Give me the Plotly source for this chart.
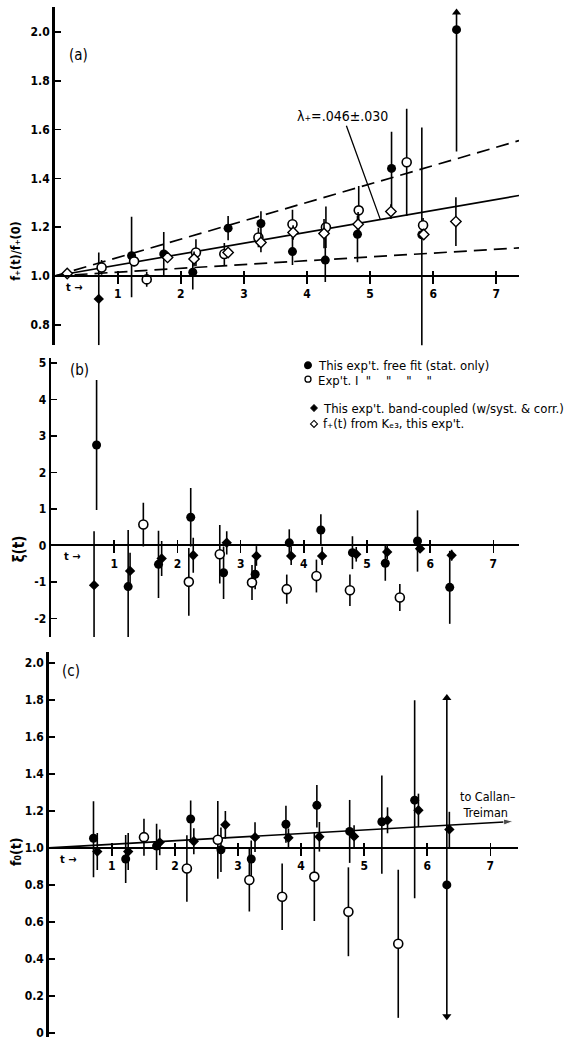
import plotly.graph_objects as go

# ---------------- data ----------------
# panel (a): f+(t)/f+(0)
a_free_t = [1.22, 1.73, 2.19, 2.75, 3.27, 3.77, 4.29, 4.80, 5.34, 5.82, 6.37]
a_free_v = [1.083, 1.09, 1.015, 1.196, 1.215, 1.10, 1.065, 1.171, 1.441, 1.169, 2.01]
a_free_ep = [0.16, 0.09, 0.07, 0.05, 0.05, 0.055, 0.09, 0.075, 0.15, 0.44, 0.07]
a_free_em = [0.17, 0.09, 0.07, 0.05, 0.06, 0.055, 0.09, 0.115, 0.17, 0.46, 0.50]
a_free_arrow_up = [10]

a_band_t = [0.70]
a_band_v = [0.906]
a_band_e = [0.19]

a_expI_t = [0.745, 1.26, 1.46, 2.24, 2.69, 3.23, 3.77, 4.30, 4.82, 5.58, 5.84]
a_expI_v = [1.035, 1.06, 0.986, 1.096, 1.09, 1.158, 1.212, 1.20, 1.269, 1.466, 1.208]
a_expI_e = [0.03, 0.02, 0.03, 0.055, 0.045, 0.04, 0.06, 0.085, 0.10, 0.22, 0.03]

a_ke3_t = [0.20, 1.79, 2.21, 2.75, 3.27, 3.78, 4.27, 4.81, 5.33, 5.85, 6.36]
a_ke3_v = [1.01, 1.076, 1.07, 1.096, 1.137, 1.178, 1.174, 1.212, 1.264, 1.17, 1.223]
a_ke3_e = [0.0, 0.02, 0.03, 0.02, 0.04, 0.03, 0.06, 0.05, 0.03, 0.02, 0.10]

fit_t = [0.0, 7.36]
fit_central = [1.0, 1.33]
fit_upper = [1.0, 1.555]
fit_lower = [1.0, 1.115]

# panel (b): xi(t)
b_free_t = [0.72, 1.22, 1.70, 2.21, 2.73, 3.23, 3.77, 4.27, 4.77, 5.29, 5.80, 6.31]
b_free_v = [2.75, -1.13, -0.52, 0.77, -0.75, -0.79, 0.07, 0.42, -0.20, -0.49, 0.12, -1.15]
b_free_e = [1.78, 1.55, 0.92, 0.80, 0.72, 0.41, 0.37, 0.43, 0.45, 0.48, 0.84, 1.00]
b_band_t = [0.68, 1.25, 1.75, 2.25, 2.78, 3.25, 3.80, 4.29, 4.83, 5.32, 5.84, 6.34]
b_band_v = [-1.09, -0.70, -0.36, -0.27, 0.07, -0.29, -0.29, -0.29, -0.245, -0.18, -0.09, -0.27]
b_band_e = [1.48, 0.50, 0.48, 0.48, 0.32, 0.27, 0.25, 0.25, 0.20, 0.20, 0.10, 0.15]
b_expI_t = [1.46, 2.18, 2.67, 3.18, 3.73, 4.20, 4.73, 5.52]
b_expI_v = [0.57, -1.00, -0.245, -1.02, -1.20, -0.84, -1.23, -1.43]
b_expI_e = [0.60, 0.93, 0.80, 0.48, 0.40, 0.45, 0.43, 0.37]

# panel (c): f0(t)
c_free_t = [0.71, 1.22, 1.71, 2.25, 2.73, 3.21, 3.76, 4.25, 4.77, 5.28, 5.80, 6.31]
c_free_v = [1.052, 0.94, 1.01, 1.156, 0.99, 0.94, 1.128, 1.23, 1.089, 1.141, 1.258, 0.80]
c_free_ep = [0.20, 0.13, 0.12, 0.10, 0.12, 0.10, 0.10, 0.11, 0.17, 0.25, 0.54, 1.01]
c_free_em = [0.21, 0.13, 0.13, 0.11, 0.12, 0.10, 0.10, 0.12, 0.17, 0.28, 0.53, 0.71]
c_free_arrow_both = [11]
c_band_t = [0.77, 1.26, 1.76, 2.30, 2.80, 3.27, 3.80, 4.29, 4.84, 5.37, 5.86, 6.35]
c_band_v = [0.98, 0.98, 1.03, 1.036, 1.125, 1.058, 1.055, 1.06, 1.062, 1.149, 1.203, 1.10]
c_band_e = [0.10, 0.10, 0.07, 0.07, 0.075, 0.08, 0.05, 0.08, 0.06, 0.07, 0.09, 0.095]
c_expI_t = [1.51, 2.19, 2.68, 3.18, 3.70, 4.21, 4.75, 5.54]
c_expI_v = [1.058, 0.889, 1.044, 0.827, 0.736, 0.845, 0.655, 0.482]
c_expI_e = [0.10, 0.18, 0.21, 0.17, 0.18, 0.24, 0.24, 0.40]
ct_t = [0.0, 7.36]
ct_v = [1.0, 1.143]

x_ticks = [1, 2, 3, 4, 5, 6, 7]
a_yticks = [0.8, 1.0, 1.2, 1.4, 1.6, 1.8, 2.0]
a_ytext = ["0.8", "1.0", "1.2", "1.4", "1.6", "1.8", "2.0"]
b_yticks = [-2, -1, 0, 1, 2, 3, 4, 5]
b_ytext = ["-2", "-1", "0", "1", "2", "3", "4", "5"]
c_yticks = [0, 0.2, 0.4, 0.6, 0.8, 1.0, 1.2, 1.4, 1.6, 1.8, 2.0]
c_ytext = ["0", "0.2", "0.4", "0.6", "0.8", "1.0", "1.2", "1.4", "1.6", "1.8", "2.0"]

# ---------------- layout geometry ----------------
W, H = 569, 1040
FONT = "DejaVu Sans Condensed, DejaVu Sans, sans-serif"
BLACK = "black"


def xdom(p0, p1):
    return [p0 / W, p1 / W]


def ydom(top, bottom):
    return [1 - bottom / H, 1 - top / H]


panels = {
    "a": dict(xd=xdom(54.6, 519.0), xr=[0, 7.36], yd=ydom(5, 345), yr=[0.7155, 2.103], base=1.0),
    "b": dict(xd=xdom(51.1, 518.6), xr=[0, 7.40], yd=ydom(358, 638), yr=[-2.509, 5.127], base=0.0),
    "c": dict(xd=xdom(48.7, 517.5), xr=[0, 7.43], yd=ydom(653, 1040), yr=[-0.0215, 2.059], base=1.0),
}


def base_pos(p):
    d0, d1 = p["yd"]
    r0, r1 = p["yr"]
    return d0 + (p["base"] - r0) / (r1 - r0) * (d1 - d0)


fig = go.Figure()


def err(ep, em=None):
    d = dict(type="data", array=ep, color=BLACK, thickness=1.6, width=0, visible=True)
    if em is not None:
        d.update(symmetric=False, arrayminus=em)
    return d


def pts(t, v, e, em, kind, xa, ya, name):
    if kind == "free":
        mk = dict(symbol="circle", size=9, color=BLACK)
    elif kind == "band":
        mk = dict(symbol="diamond", size=8, color=BLACK)
    elif kind == "expI":
        mk = dict(symbol="circle", size=9, color="white", line=dict(color=BLACK, width=1.6))
    else:
        mk = dict(symbol="diamond", size=8, color="white", line=dict(color=BLACK, width=1.4))
    fig.add_trace(go.Scatter(x=t, y=v, mode="markers", marker=mk, error_y=err(e, em),
                             xaxis=xa, yaxis=ya, name=name, showlegend=False))


def line(t, v, xa, ya, dash="solid", name=""):
    fig.add_trace(go.Scatter(x=t, y=v, mode="lines", line=dict(color=BLACK, width=1.7, dash=dash),
                             xaxis=xa, yaxis=ya, name=name, showlegend=False, hoverinfo="skip"))


# panel (a)
line(fit_t, fit_upper, "x", "y", "13px,7px", "upper")
line(fit_t, fit_lower, "x", "y", "13px,7px", "lower")
line(fit_t, fit_central, "x", "y", "solid", "λ+ = .046")
pts(a_free_t, a_free_v, a_free_ep, a_free_em, "free", "x", "y", "This exp't. free fit")
pts(a_band_t, a_band_v, a_band_e, None, "band", "x", "y", "This exp't. band-coupled")
pts(a_expI_t, a_expI_v, a_expI_e, None, "expI", "x", "y", "Exp't. I")
pts(a_ke3_t, a_ke3_v, a_ke3_e, None, "ke3", "x", "y", "f+(t) from Ke3")
fig.add_trace(go.Scatter(
    x=[a_free_t[i] for i in a_free_arrow_up],
    y=[a_free_v[i] + a_free_ep[i] for i in a_free_arrow_up],
    mode="markers", marker=dict(symbol="triangle-up", size=8, color=BLACK),
    xaxis="x", yaxis="y", showlegend=False, hoverinfo="skip"))

# panel (b)
pts(b_free_t, b_free_v, b_free_e, None, "free", "x2", "y2", "This exp't. free fit")
pts(b_band_t, b_band_v, b_band_e, None, "band", "x2", "y2", "This exp't. band-coupled")
pts(b_expI_t, b_expI_v, b_expI_e, None, "expI", "x2", "y2", "Exp't. I")

# panel (c)
fig.add_trace(go.Scatter(x=ct_t, y=ct_v, mode="lines+markers",
                         line=dict(color=BLACK, width=1.6),
                         marker=dict(symbol="arrow", size=[0, 10], angleref="previous", color=BLACK),
                         xaxis="x3", yaxis="y3", showlegend=False, name="to Callan-Treiman"))
pts(c_free_t, c_free_v, c_free_ep, c_free_em, "free", "x3", "y3", "This exp't. free fit")
pts(c_band_t, c_band_v, c_band_e, None, "band", "x3", "y3", "This exp't. band-coupled")
pts(c_expI_t, c_expI_v, c_expI_e, None, "expI", "x3", "y3", "Exp't. I")
fig.add_trace(go.Scatter(
    x=[c_free_t[i] for i in c_free_arrow_both] * 2,
    y=[c_free_v[i] + c_free_ep[i] for i in c_free_arrow_both] + [c_free_v[i] - c_free_em[i] for i in c_free_arrow_both],
    mode="markers", marker=dict(symbol=["triangle-up", "triangle-down"], size=8, color=BLACK),
    xaxis="x3", yaxis="y3", showlegend=False, hoverinfo="skip"))

# empty traces so the overlaid tick-only axes exist
for xa, ya in (("x4", "y"), ("x5", "y2"), ("x6", "y3")):
    fig.add_trace(go.Scatter(x=[], y=[], xaxis=xa, yaxis=ya, showlegend=False, hoverinfo="skip"))


# ---------------- axes ----------------
def bold(s):
    return "<b>" + s + "</b>"


def xaxis(p):
    return dict(domain=p["xd"], range=p["xr"], anchor="free", position=base_pos(p),
                showline=True, linecolor=BLACK, linewidth=2, showgrid=False, zeroline=False,
                tickmode="array", tickvals=x_ticks, ticktext=[bold(str(v)) for v in x_ticks],
                ticks="outside", ticklen=7, tickwidth=1.6, tickcolor=BLACK,
                tickfont=dict(family=FONT, size=12, color=BLACK), fixedrange=True)


def xaxis_up(p, over):
    return dict(domain=p["xd"], range=p["xr"], anchor="free", position=base_pos(p), overlaying=over,
                showline=False, showgrid=False, zeroline=False, showticklabels=False,
                tickmode="array", tickvals=x_ticks,
                ticks="inside", ticklen=5, tickwidth=1.6, tickcolor=BLACK, fixedrange=True)


def yaxis(p, anchor, tv, tt):
    return dict(domain=p["yd"], range=p["yr"], anchor=anchor,
                showline=True, linecolor=BLACK, linewidth=2.5, showgrid=False, zeroline=False,
                tickmode="array", tickvals=tv, ticktext=[bold(s) for s in tt],
                ticks="inside", ticklen=6, tickwidth=1.6, tickcolor=BLACK,
                ticklabeloverflow="allow",
                tickfont=dict(family=FONT, size=12, color=BLACK), fixedrange=True)


# legend glyphs drawn as small shapes in figure (pixel) space
def px(x):
    return x / W


def py(y):
    return 1 - y / H


def diamond_path(cx, cy, r):
    return (f"M {px(cx)},{py(cy - r)} L {px(cx + r)},{py(cy)} "
            f"L {px(cx)},{py(cy + r)} L {px(cx - r)},{py(cy)} Z")


def circle_shape(cx, cy, r, fill):
    return dict(type="circle", xref="paper", yref="paper",
                x0=px(cx - r), x1=px(cx + r), y0=py(cy + r), y1=py(cy - r),
                line=dict(color=BLACK, width=1.3), fillcolor=fill)


shapes = [
    circle_shape(308, 365, 3.3, BLACK),
    circle_shape(308, 379, 3.0, "white"),
    dict(type="path", xref="paper", yref="paper", path=diamond_path(314, 408, 3.5),
         line=dict(color=BLACK, width=1), fillcolor=BLACK),
    dict(type="path", xref="paper", yref="paper", path=diamond_path(314, 424, 3.5),
         line=dict(color=BLACK, width=1.1), fillcolor="white"),
]

fig.update_layout(
    width=W, height=H, margin=dict(l=0, r=0, t=0, b=0),
    paper_bgcolor="white", plot_bgcolor="white", showlegend=False,
    xaxis=xaxis(panels["a"]), yaxis=yaxis(panels["a"], "x", a_yticks, a_ytext),
    xaxis2=xaxis(panels["b"]), yaxis2=yaxis(panels["b"], "x2", b_yticks, b_ytext),
    xaxis3=xaxis(panels["c"]), yaxis3=yaxis(panels["c"], "x3", c_yticks, c_ytext),
    xaxis4=xaxis_up(panels["a"], "x"), xaxis5=xaxis_up(panels["b"], "x2"),
    xaxis6=xaxis_up(panels["c"], "x3"),
    font=dict(family=FONT, color=BLACK),
    shapes=shapes,
)

ann = []


def txt(x, y, s, size=12, xref="paper", yref="paper", xanchor="center", angle=0, align="center"):
    ann.append(dict(x=x, y=y, xref=xref, yref=yref, text=s, showarrow=False, xanchor=xanchor,
                    yanchor="middle", textangle=angle, align=align,
                    font=dict(family=FONT, size=size, color=BLACK)))


NB = "\u00a0"
# panel letters
txt(78 / W, 1 - 53 / H, "(a)", 15)
txt(79 / W, 1 - 370 / H, "(b)", 15)
txt(71 / W, 1 - 672 / H, "(c)", 15)
# y titles
txt(16 / W, 1 - 250 / H, "<b>f₊(t)/f₊(0)</b>", 12.5, angle=-90)
txt(19 / W, 1 - 550 / H, "<b>ξ(t)</b>", 15, angle=-90)
txt(16 / W, 1 - 853 / H, "<b>f₀(t)</b>", 14, angle=-90)
# "t ->" labels
txt(0.31, 0.952, "<b>t →</b>", 11, xref="x", yref="y")
txt(0.33, -0.30, "<b>t →</b>", 11, xref="x2", yref="y2")
txt(0.30, 0.94, "<b>t →</b>", 11, xref="x3", yref="y3")
# legend (panel b)
txt(316 / W, 1 - 365 / H, "This exp't. free fit (stat. only)", 13, xanchor="left")
ditto = ("\"" + NB * 4) * 3 + "\""
txt(316 / W, 1 - 380 / H, "Exp't. I" + NB * 2 + ditto, 13, xanchor="left")
txt(321 / W, 1 - 408 / H, "This exp't. band-coupled (w/syst. & corr.)", 13, xanchor="left")
txt(321 / W, 1 - 424 / H, "f₊(t) from Kₑ₃, this exp't.", 13, xanchor="left")
# Callan-Treiman label
txt(6.49, 1.235, "to Callan–<br>" + NB + "Treiman", 12.5, xref="x3", yref="y3", xanchor="left", align="left")
# lambda label with leader line
ann.append(dict(x=5.16, y=1.233, xref="x", yref="y", ax=4.57, ay=1.655, axref="x", ayref="y",
                text="λ₊=.046±.030", showarrow=True, arrowhead=0, arrowwidth=1.3,
                arrowcolor=BLACK, standoff=0, font=dict(family=FONT, size=14, color=BLACK)))
fig.update_layout(annotations=ann)

fig.write_html("out.html", config={"displayModeBar": False, "staticPlot": True},
               post_script="document.body.style.margin='0';document.body.style.overflow='hidden';")
